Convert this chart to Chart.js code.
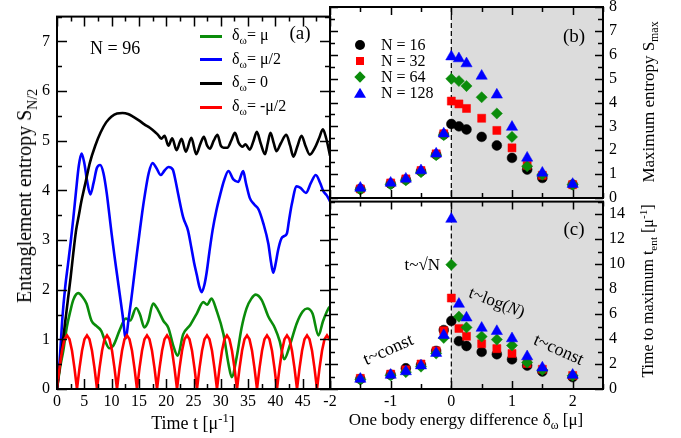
<!DOCTYPE html>
<html>
<head>
<meta charset="utf-8">
<script src="https://cdn.jsdelivr.net/npm/chart.js@4/dist/chart.umd.min.js"></script>
<style>
  body { margin: 0; width: 681px; height: 438px; position: relative; overflow: hidden; background: #fff; font-family: "Liberation Serif", serif; }
  canvas { position: absolute; }
  .t { position: absolute; white-space: nowrap; line-height: 1; color: #000; }
  .t sub { font-size: 70%; vertical-align: -0.4em; line-height: 0; }
  .t sup { font-size: 70%; vertical-align: 0.55em; line-height: 0; }
  .mk { position: absolute; }
</style>
</head>
<body>
<canvas id="ca" width="340" height="438" style="left:0;top:0"></canvas>
<canvas id="cb" width="381" height="225" style="left:300px;top:-10px"></canvas>
<canvas id="cc" width="381" height="252" style="left:300px;top:186px"></canvas>
<script>
// (a) entanglement entropy vs time, N = 96, pairs of [t, S]
const greenCurve = [[0,0],[0.6,0.45],[1.15,0.77],[1.8,1.25],[2.4,1.55],[3.0,1.8],[3.9,1.93],[4.7,1.85],[5.4,1.72],[6.3,1.38],[7.2,1.27],[8.1,1.17],[8.8,0.97],[9.6,0.82],[10.3,0.87],[11.5,1.19],[12.6,1.42],[13.4,1.38],[14.5,1.63],[15.2,1.5],[16.0,1.24],[16.7,1.36],[17.6,1.72],[18.5,1.59],[19.5,1.37],[20.4,1.23],[21.3,0.87],[22.1,0.67],[23.1,1.1],[24.4,1.29],[25.6,1.52],[26.8,1.75],[27.5,1.7],[28.3,1.82],[29.2,1.59],[30.5,1.1],[31.4,0.51],[32.0,0.24],[32.9,0.64],[33.8,1.23],[34.7,1.62],[35.6,1.82],[36.4,1.9],[37.5,1.79],[38.7,1.46],[39.9,1.23],[40.8,0.96],[41.6,0.6],[42.7,0.9],[43.9,1.32],[45.0,1.56],[45.8,1.62],[46.8,1.52],[47.9,1.08],[48.7,1.36],[49.7,1.62],[50,1.66]];
const blueCurve = [[0,0],[0.5,0.6],[1,1.45],[1.5,2.05],[2,2.5],[2.5,2.95],[3,3.45],[3.5,4.0],[4,4.5],[4.5,4.74],[5,4.55],[5.5,4.2],[6.1,3.92],[6.7,4.15],[7.3,4.45],[7.9,4.51],[8.5,4.35],[9.1,3.95],[9.6,3.5],[10,3.13],[10.5,2.7],[11,2.3],[11.5,1.9],[12,1.5],[12.6,1.02],[13.1,1.4],[13.6,1.8],[14.1,2.25],[14.6,2.7],[15.1,3.13],[15.6,3.55],[16.1,3.92],[16.8,4.35],[17.5,4.55],[18.2,4.45],[19.0,4.31],[19.7,4.4],[20.4,4.47],[21.2,4.42],[21.7,4.2],[22.2,3.92],[23.1,3.46],[24.0,3.19],[24.6,2.85],[25.1,2.55],[25.6,2.3],[26.1,2.05],[26.5,1.95],[27.0,2.1],[27.4,2.34],[27.9,2.75],[28.5,3.2],[29.2,3.6],[29.9,3.92],[30.6,4.2],[31.4,4.39],[32.3,4.22],[33.2,4.17],[34.1,4.39],[34.6,4.15],[35.3,3.85],[36.1,3.72],[36.9,3.62],[37.8,3.33],[38.7,2.93],[39.2,2.55],[39.6,2.34],[40.0,2.5],[40.5,2.8],[41.1,3.03],[41.6,3.08],[42.1,3.13],[42.5,3.4],[43.0,3.72],[43.9,4.08],[44.6,4.05],[45.6,3.95],[46.5,4.15],[47.4,4.31],[48.2,4.15],[48.8,3.98],[49.4,3.9],[50,3.78]];
const blackCurve = [[0,0],[0.5,0.45],[1,0.9],[1.5,1.35],[2,1.8],[2.5,2.25],[3,2.75],[3.5,3.2],[4,3.5],[4.5,3.8],[5,4.05],[5.5,4.3],[6,4.55],[7,4.9],[8,5.17],[9,5.37],[10,5.49],[11,5.55],[12,5.56],[13,5.54],[14,5.48],[15,5.41],[16,5.33],[17,5.26],[18,5.17],[18.5,5.12],[19.1,5.04],[19.7,5.1],[20.4,4.9],[21.1,5.05],[21.9,4.81],[22.8,5.04],[23.6,4.78],[24.6,5.06],[25.5,4.73],[26.3,4.95],[26.9,5.08],[27.5,4.9],[28.0,4.84],[28.7,5.0],[29.4,5.12],[30.0,4.9],[30.5,4.86],[31.2,4.86],[31.9,5.0],[32.6,5.16],[33.3,4.95],[34.0,4.88],[34.5,4.93],[35.3,4.82],[36.0,5.0],[36.6,5.18],[37.3,4.95],[38.1,4.73],[38.6,4.95],[39.1,5.16],[39.7,4.95],[40.2,4.79],[41.0,4.95],[42.0,5.12],[42.7,4.9],[43.3,4.68],[44.0,4.88],[44.8,5.1],[45.5,4.9],[46.3,4.72],[47.2,4.85],[48.0,5.05],[48.7,5.23],[49.3,5.05],[50,4.7]];
const redCurve = [
  [0,0],[0.46,0.42],[0.92,0.77],[1.37,1.0],[1.83,1.08],[2.29,1.0],[2.75,0.77],[3.2,0.42],
  [3.66,0],[4.12,0.42],[4.58,0.77],[5.03,1.0],[5.49,1.08],[5.95,1.0],[6.41,0.77],[6.87,0.42],
  [7.33,0],[7.79,0.42],[8.25,0.77],[8.7,1.0],[9.16,1.08],[9.62,1.0],[10.08,0.77],[10.53,0.42],
  [10.99,0],[11.45,0.42],[11.91,0.77],[12.36,1.0],[12.82,1.08],[13.28,1.0],[13.74,0.77],[14.19,0.42],
  [14.65,0],[15.11,0.42],[15.57,0.77],[16.02,1.0],[16.48,1.08],[16.94,1.0],[17.4,0.77],[17.86,0.42],
  [18.32,0],[18.78,0.42],[19.24,0.77],[19.69,1.0],[20.15,1.08],[20.61,1.0],[21.07,0.77],[21.52,0.42],
  [21.98,0],[22.44,0.42],[22.9,0.77],[23.35,1.0],[23.81,1.08],[24.27,1.0],[24.73,0.77],[25.18,0.42],
  [25.64,0],[26.1,0.42],[26.56,0.77],[27.01,1.0],[27.47,1.08],[27.93,1.0],[28.39,0.77],[28.84,0.42],
  [29.3,0],[29.76,0.42],[30.22,0.77],[30.67,1.0],[31.13,1.08],[31.59,1.0],[32.05,0.77],[32.51,0.42],
  [32.97,0],[33.43,0.42],[33.89,0.77],[34.34,1.0],[34.8,1.08],[35.26,1.0],[35.72,0.77],[36.17,0.42],
  [36.63,0],[37.09,0.42],[37.55,0.77],[38.0,1.0],[38.46,1.08],[38.92,1.0],[39.38,0.77],[39.83,0.42],
  [40.29,0],[40.75,0.42],[41.21,0.77],[41.66,1.0],[42.12,1.08],[42.58,1.0],[43.04,0.77],[43.5,0.42],
  [43.96,0],[44.42,0.42],[44.88,0.77],[45.33,1.0],[45.79,1.08],[46.25,1.0],[46.71,0.77],[47.16,0.42],
  [47.62,0],[48.08,0.42],[48.54,0.77],[48.99,1.0],[49.45,1.08],[49.91,1.0],[50,0.98]
];

// (b) and (c): one body energy difference in units of mu
const deltas = [-1.5, -1, -0.75, -0.5, -0.25, -0.125, 0, 0.125, 0.25, 0.5, 0.75, 1, 1.25, 1.5, 2];
const smax16  = [0.38, 0.6, 0.77, 1.12, 1.82, 2.66, 3.1, 3.0, 2.87, 2.56, 2.2, 1.68, 1.19, 0.84, 0.56];
const smax32  = [0.38, 0.63, 0.8, 1.15, 1.85, 2.69, 4.06, 3.94, 3.75, 3.34, 2.83, 2.1, 1.37, 0.95, 0.56];
const smax64  = [0.35, 0.57, 0.74, 1.08, 1.79, 2.63, 4.99, 4.9, 4.69, 4.22, 3.54, 2.56, 1.33, 0.98, 0.56];
const smax128 = [0.42, 0.63, 0.8, 1.15, 1.85, 2.69, 5.92, 5.84, 5.63, 5.11, 4.32, 2.97, 1.68, 1.05, 0.58];
const tent16  = [0.8, 1.14, 1.66, 1.92, 3.05, 4.72, 5.45, 3.83, 3.44, 2.97, 2.78, 2.37, 1.87, 1.4, 0.95];
const tent32  = [0.85, 1.19, 1.53, 2.0, 3.05, 4.67, 7.28, 4.85, 4.22, 3.62, 3.23, 2.84, 2.05, 1.58, 1.08];
const tent64  = [0.75, 1.08, 1.35, 1.79, 2.84, 4.09, 9.95, 5.79, 4.93, 4.2, 3.96, 3.49, 2.13, 1.53, 1.06];
const tent128 = [0.8, 1.12, 1.4, 1.87, 2.87, 4.3, 13.6, 6.8, 5.7, 4.88, 4.62, 4.04, 2.6, 1.7, 1.12];

// tick labels
const timeTicks = [0, 5, 10, 15, 20, 25, 30, 35, 40, 45];
const entropyTicks = [0, 1, 2, 3, 4, 5, 6, 7];
const deltaTicks = [-2, -1, 0, 1, 2];
const smaxTicks = [0, 1, 2, 3, 4, 5, 6, 7, 8];
const tentTicks = [0, 2, 4, 6, 8, 10, 12, 14];

const GREEN = '#0a8c0a', BLUE = '#0000ff', RED = '#ff0000', BLACK = '#000000';

Chart.defaults.font.family = '"Liberation Serif", serif';
Chart.defaults.font.size = 16;
Chart.defaults.color = '#000';
Chart.defaults.animation = false;

const pts = arr => arr.map(([x, y]) => ({x, y}));
const pairs = (xs, ys) => xs.map((x, i) => ({x, y: ys[i]}));
const fixTicks = vals => scale => { scale.ticks = vals.map(v => ({value: v})); };

// frame, inward ticks, grey area and dashed line at zero
const frameTicks = {
  id: 'frameTicks',
  beforeDatasetsDraw(chart, args, o) {
    if (!o.shade) return;
    const {ctx, chartArea: a, scales: {x}} = chart;
    const x0 = x.getPixelForValue(0);
    ctx.save();
    ctx.fillStyle = '#dcdcdc';
    ctx.fillRect(x0, a.top, a.right - x0, a.height);
    ctx.strokeStyle = '#000';
    ctx.lineWidth = 1.2;
    ctx.setLineDash([5, 3]);
    ctx.beginPath();
    ctx.moveTo(x0, a.top);
    ctx.lineTo(x0, a.bottom);
    ctx.stroke();
    ctx.restore();
  },
  afterDraw(chart, args, o) {
    const {ctx, chartArea: a, scales: {x, y}} = chart;
    const isMajor = (v, step) => Math.abs(v / step - Math.round(v / step)) < 1e-6;
    ctx.save();
    ctx.strokeStyle = '#000';
    ctx.lineWidth = 1.5;
    ctx.beginPath();
    for (let v = x.min; v <= x.max + 1e-9; v += o.xMinor) {
      const p = Math.round(x.getPixelForValue(v)) + 0.5;
      const len = isMajor(v, o.xMajor) ? o.major : o.minor;
      ctx.moveTo(p, a.bottom); ctx.lineTo(p, a.bottom - len);
      ctx.moveTo(p, a.top); ctx.lineTo(p, a.top + len);
    }
    for (let v = y.min; v <= y.max + 1e-9; v += o.yMinor) {
      const p = Math.round(y.getPixelForValue(v)) + 0.5;
      const len = isMajor(v, o.yMajor) ? o.major : o.minor;
      ctx.moveTo(a.left, p); ctx.lineTo(a.left + len, p);
      ctx.moveTo(a.right, p); ctx.lineTo(a.right - len, p);
    }
    ctx.stroke();
    ctx.lineWidth = 2;
    ctx.strokeRect(a.left, a.top, a.width, a.height);
    ctx.restore();
  }
};

const hidden = {grid: {display: false, drawTicks: false}, border: {display: false}};

// panel (a)
new Chart(document.getElementById('ca'), {
  type: 'line',
  data: {
    datasets: [
      {data: pts(redCurve), borderColor: RED, tension: 0, order: 0},
      {data: pts(blackCurve), borderColor: BLACK, cubicInterpolationMode: 'monotone', order: 1},
      {data: pts(blueCurve), borderColor: BLUE, cubicInterpolationMode: 'monotone', order: 2},
      {data: pts(greenCurve), borderColor: GREEN, cubicInterpolationMode: 'monotone', order: 3}
    ]
  },
  options: {
    responsive: false,
    layout: {padding: {top: 7, right: 10, left: 0, bottom: 0}},
    elements: {point: {radius: 0}, line: {borderWidth: 2.6, fill: false}},
    plugins: {
      legend: {display: false},
      tooltip: {enabled: false},
      frameTicks: {xMajor: 5, xMinor: 2.5, yMajor: 1, yMinor: 0.5, major: 10, minor: 5}
    },
    scales: {
      x: {
        type: 'linear', min: 0, max: 50, ...hidden,
        ticks: {padding: 3, autoSkip: false, maxRotation: 0},
        afterBuildTicks: fixTicks(timeTicks),
        afterFit: s => { s.height = 49; }
      },
      y: {
        min: 0, max: 7.5, ...hidden,
        ticks: {padding: 7},
        afterBuildTicks: fixTicks(entropyTicks),
        afterFit: s => { s.width = 57; }
      }
    }
  },
  plugins: [frameTicks]
});

function scatterSets(s16, s32, s64, s128) {
  return [
    {data: pairs(deltas, s128), backgroundColor: BLUE, borderColor: BLUE, pointStyle: 'triangle', pointRadius: 6.5, order: 0},
    {data: pairs(deltas, s64), backgroundColor: GREEN, borderColor: GREEN, pointStyle: 'rectRot', pointRadius: 5.6, order: 1},
    {data: pairs(deltas, s32), backgroundColor: RED, borderColor: RED, pointStyle: 'rect', pointRadius: 5.7, order: 2},
    {data: pairs(deltas, s16), backgroundColor: BLACK, borderColor: BLACK, pointStyle: 'circle', pointRadius: 4.9, order: 3}
  ];
}

function rightPanel(id, sets, yMax, yTicks, yStep, yMinor, pad, showX) {
  return new Chart(document.getElementById(id), {
    type: 'scatter',
    data: {datasets: sets},
    options: {
      responsive: false,
      layout: {padding: pad},
      elements: {point: {borderWidth: 0.5, hoverRadius: 0}},
      plugins: {
        legend: {display: false},
        tooltip: {enabled: false},
        frameTicks: {shade: true, xMajor: 1, xMinor: 0.5, yMajor: yStep, yMinor: yMinor, major: 8, minor: 5}
      },
      scales: {
        x: showX ? {
          type: 'linear', min: -2, max: 2.5, ...hidden,
          ticks: {padding: 3, autoSkip: false, maxRotation: 0},
          afterBuildTicks: fixTicks(deltaTicks),
          afterFit: s => { s.height = 49; }
        } : {type: 'linear', min: -2, max: 2.5, display: false},
        y: {
          position: 'right', min: 0, max: yMax, ...hidden,
          ticks: {padding: 6},
          afterBuildTicks: fixTicks(yTicks),
          afterFit: s => { s.width = 78; }
        }
      }
    },
    plugins: [frameTicks]
  });
}

rightPanel('cb', scatterSets(smax16, smax32, smax64, smax128), 8, smaxTicks, 1, 0.5, {top: 17, bottom: 17, left: 30, right: 0}, false);
rightPanel('cc', scatterSets(tent16, tent32, tent64, tent128), 15, tentTicks, 2, 1, {top: 12, bottom: 0, left: 30, right: 0}, true);

// text overlays
function addText(html, x, y, size, align, rot) {
  const d = document.createElement('div');
  d.className = 't';
  d.innerHTML = html;
  d.style.left = x + 'px';
  d.style.top = y + 'px';
  d.style.fontSize = size + 'px';
  const ax = align === 'left' ? '0' : align === 'right' ? '-100%' : '-50%';
  d.style.transform = 'translate(' + ax + ', -50%)' + (rot ? ' rotate(' + rot + 'deg)' : '');
  document.body.appendChild(d);
}
function addLine(color, x, y) {
  const d = document.createElement('div');
  d.className = 'mk';
  d.style.cssText += 'left:' + x + 'px;top:' + (y - 1.5) + 'px;width:22px;height:3px;background:' + color;
  document.body.appendChild(d);
}
function addMark(shape, color, x, y) {
  const d = document.createElement('div');
  d.className = 'mk';
  let w = 10, h = 10, extra = '';
  if (shape === 'circle') extra = 'border-radius:50%;';
  if (shape === 'rect') { w = 8; h = 8; }
  if (shape === 'diamond') { w = 8; h = 8; extra = 'transform:rotate(45deg);'; }
  if (shape === 'triangle') { w = 12; h = 10; extra = 'clip-path:polygon(50% 0,100% 100%,0 100%);'; }
  d.style.cssText += 'left:' + (x - w / 2) + 'px;top:' + (y - h / 2) + 'px;width:' + w + 'px;height:' + h + 'px;background:' + color + ';' + extra;
  document.body.appendChild(d);
}

addText('N = 96', 90, 48, 18, 'left');
addText('(a)', 300, 32, 19);
const legA = [[GREEN, 'δ<sub>ω</sub>= μ'], [BLUE, 'δ<sub>ω</sub>= μ/2'], [BLACK, 'δ<sub>ω</sub>= 0'], [RED, 'δ<sub>ω</sub>= -μ/2']];
legA.forEach(([c, txt], i) => {
  const y = 36 + i * 23.7;
  addLine(c, 200, y);
  addText(txt, 232, y - 1, 16, 'left');
});

addText('(b)', 574, 35, 19);
const legB = [['circle', BLACK, 'N = 16'], ['rect', RED, 'N = 32'], ['diamond', GREEN, 'N = 64'], ['triangle', BLUE, 'N = 128']];
legB.forEach(([s, c, txt], i) => {
  const y = 45 + i * 15.9;
  addMark(s, c, 360, y);
  addText(txt, 381, y, 16, 'left');
});

addText('(c)', 574, 228, 19);
addText('t~√N', 440, 264, 17, 'right');
addText('t~log(<i>N</i>)', 497, 302, 17, 'center', 21);
addText('t~const', 388, 349, 18, 'center', -24);
addText('t~const', 559, 349, 18, 'center', 24);

addText('Entanglement entropy S<sub>N/2</sub>', 24, 196, 20, 'center', -90);
addText('Time t [μ<sup>-1</sup>]', 193, 423, 18);
addText('One body energy difference δ<sub>ω</sub> [μ]', 466, 419, 17);
addText('Maximum entropy S<sub>max</sub>', 648, 102, 17, 'center', -90);
addText('Time to maximum t<sub>ent</sub> [μ<sup>-1</sup>]', 648, 291, 16, 'center', -90);
</script>
</body>
</html>
